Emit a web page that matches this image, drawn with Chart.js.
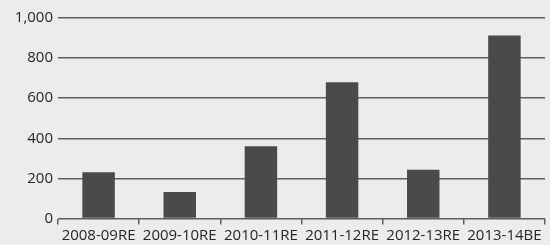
<!DOCTYPE html>
<html>
<head>
<meta charset="utf-8">
<script src="https://cdn.jsdelivr.net/npm/chart.js@4"></script>
<style>
  html, body { margin: 0; padding: 0; background: #ececea; }
  #wrap { position: relative; width: 550px; height: 245px; }
</style>
</head>
<body>
<div id="wrap"><canvas id="chart"></canvas></div>
<script>
const years = ['2008-09RE', '2009-10RE', '2010-11RE', '2011-12RE', '2012-13RE', '2013-14BE'];
const amounts = [231, 132, 360, 680, 243, 913];
const yTicks = [0, 200, 400, 600, 800, 1000];

const textColor = '#262626';
const lineColor = '#5e5e5e';

new Chart(document.getElementById('chart'), {
  type: 'bar',
  data: {
    labels: years,
    datasets: [{
      data: amounts,
      backgroundColor: '#4a4a4a',
      borderWidth: 0,
      barPercentage: 0.4,
      categoryPercentage: 1.0
    }]
  },
  options: {
    responsive: true,
    maintainAspectRatio: false,
    animation: false,
    layout: { padding: { top: 18, right: 5, left: 0, bottom: 0 } },
    plugins: {
      legend: { display: false },
      tooltip: { enabled: false }
    },
    scales: {
      x: {
        offset: true,
        border: { display: false },
        grid: {
          offset: true,
          drawOnChartArea: false,
          drawTicks: true,
          tickLength: 6,
          color: lineColor,
          lineWidth: 1.5
        },
        ticks: {
          color: textColor,
          font: { family: 'Open Sans', size: 15 },
          padding: 2,
          maxRotation: 0,
          autoSkip: false
        },
        afterFit: (scale) => { scale.height = 26.5; }
      },
      y: {
        min: 0,
        max: 1000,
        border: { display: false },
        grid: {
          drawTicks: false,
          color: lineColor,
          lineWidth: 1.6
        },
        afterBuildTicks: (scale) => {
          scale.ticks = yTicks.map((v) => ({ value: v }));
        },
        ticks: {
          color: textColor,
          font: { family: 'Open Sans', size: 15 },
          padding: 5,
          callback: (v) => v.toLocaleString('en-US')
        },
        afterFit: (scale) => { scale.width = 58; }
      }
    }
  }
});
</script>
</body>
</html>
